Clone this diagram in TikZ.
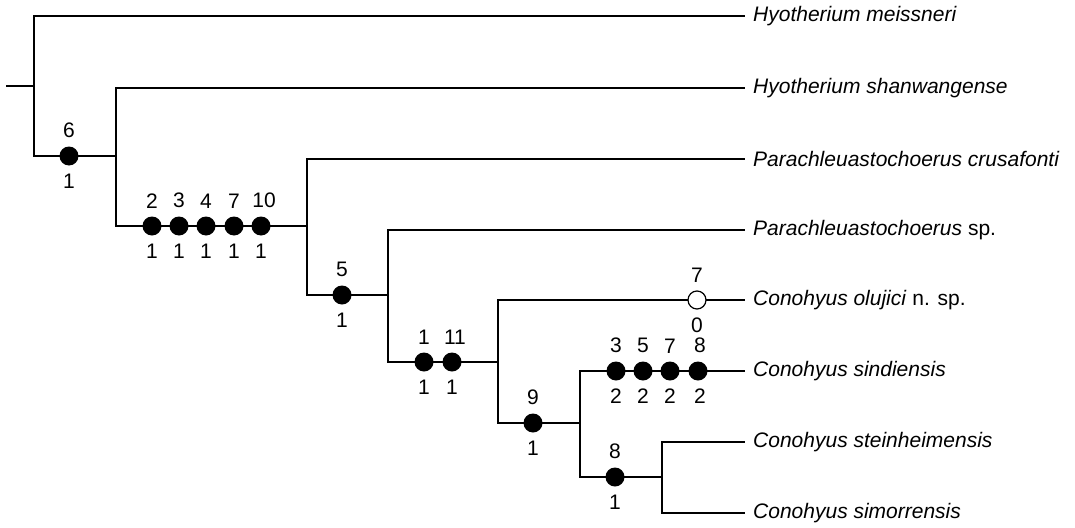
\documentclass[tikz,border=0pt]{standalone}
\usepackage{fontspec}
\setmainfont{Liberation Sans}
\begin{document}
\begin{tikzpicture}[x=1pt,y=-1pt,
  br/.style={line width=1.5pt,line cap=rect},
  leaf/.style={anchor=west,inner xsep=9pt,inner ysep=0pt,font=\fontsize{21}{24}\selectfont},
  dotf/.style={circle,fill=black,minimum size=19pt,inner sep=0pt},
  doto/.style={circle,draw=black,fill=white,line width=1.2pt,minimum size=18pt,inner sep=0pt},
  num/.style={inner sep=0pt,font=\fontsize{21}{24}\selectfont,label distance=8pt}]
\useasboundingbox (0,0) rectangle (1075,527);
% junction coordinates
\coordinate (R) at (7,86);
\coordinate (A) at (34,86);  \coordinate (A1) at (34,16);  \coordinate (A2) at (34,156);
\coordinate (B) at (116,156); \coordinate (B1) at (116,88); \coordinate (B2) at (116,226);
\coordinate (C) at (307,226); \coordinate (C1) at (307,159); \coordinate (C2) at (307,295);
\coordinate (D) at (388,295); \coordinate (D1) at (388,230); \coordinate (D2) at (388,362);
\coordinate (E) at (498,362); \coordinate (E1) at (498,300); \coordinate (E2) at (498,423);
\coordinate (F) at (580,423); \coordinate (F1) at (580,371); \coordinate (F2) at (580,477);
\coordinate (G) at (662,477); \coordinate (G1) at (662,442); \coordinate (G2) at (662,513);
% leaves
\node[leaf] (L1) at (744,16)  {\textit{Hyotherium meissneri}};
\node[leaf] (L2) at (744,88)  {\textit{Hyotherium shanwangense}};
\node[leaf] (L3) at (744,159) {\textit{Parachleuastochoerus crusafonti}};
\node[leaf] (L4) at (744,230) {\textit{Parachleuastochoerus} sp.};
\node[leaf] (L5) at (744,300) {\textit{Conohyus olujici} n. sp.};
\node[leaf] (L6) at (744,371) {\textit{Conohyus sindiensis}};
\node[leaf] (L7) at (744,442) {\textit{Conohyus steinheimensis}};
\node[leaf] (L8) at (744,513) {\textit{Conohyus simorrensis}};
% branches
\draw[br] (R) -- (A);
\draw[br] (A1) -- (A2);
\draw[br] (A1) -- (A1 -| L1.west);
\draw[br] (A2) -- (B);
\draw[br] (B1) -- (B2);
\draw[br] (B1) -- (B1 -| L2.west);
\draw[br] (B2) -- (C);
\draw[br] (C1) -- (C2);
\draw[br] (C1) -- (C1 -| L3.west);
\draw[br] (C2) -- (D);
\draw[br] (D1) -- (D2);
\draw[br] (D1) -- (D1 -| L4.west);
\draw[br] (D2) -- (E);
\draw[br] (E1) -- (E2);
\draw[br] (E1) -- (E1 -| L5.west);
\draw[br] (E2) -- (F);
\draw[br] (F1) -- (F2);
\draw[br] (F1) -- (F1 -| L6.west);
\draw[br] (F2) -- (G);
\draw[br] (G1) -- (G2);
\draw[br] (G1) -- (G1 -| L7.west);
\draw[br] (G2) -- (G2 -| L8.west);
% character state changes
\node[dotf,label={[num]above:6},label={[num]below:1}] (c6) at (69,156) {};
\node[dotf,label={[num]above:2},label={[num]below:1}] (c2) at (152,226) {};
\node[dotf,label={[num]above:3},label={[num]below:1}] (c3) at (179,226) {};
\node[dotf,label={[num]above:4},label={[num]below:1}] (c4) at (206,226) {};
\node[dotf,label={[num]above:7},label={[num]below:1}] (c7) at (234,226) {};
\node[dotf,label={[num,xshift=3pt]above:10},label={[num]below:1}] (c10) at (261,226) {};
\node[dotf,label={[num]above:5},label={[num]below:1}] (c5) at (342,295) {};
\node[dotf,label={[num]above:1},label={[num]below:1}] (d1) at (424,362) {};
\node[dotf,label={[num,xshift=3pt]above:11},label={[num]below:1}] (d11) at (452,362) {};
\node[doto,label={[num]above:7},label={[num]below:0}] (e7) at (697,300) {};
\node[dotf,label={[num]above:9},label={[num]below:1}] (e9) at (533,423) {};
\node[dotf,label={[num]above:3},label={[num]below:2}] (f3) at (616,371) {};
\node[dotf,label={[num]above:5},label={[num]below:2}] (f5) at (643,371) {};
\node[dotf,label={[num]above:7},label={[num]below:2}] (f7) at (670,371) {};
\node[dotf,label={[num,xshift=2pt]above:8},label={[num,xshift=2pt]below:2}] (f8) at (698,371) {};
\node[dotf,label={[num]above:8},label={[num]below:1}] (g8) at (615,477) {};
\end{tikzpicture}
\end{document}
